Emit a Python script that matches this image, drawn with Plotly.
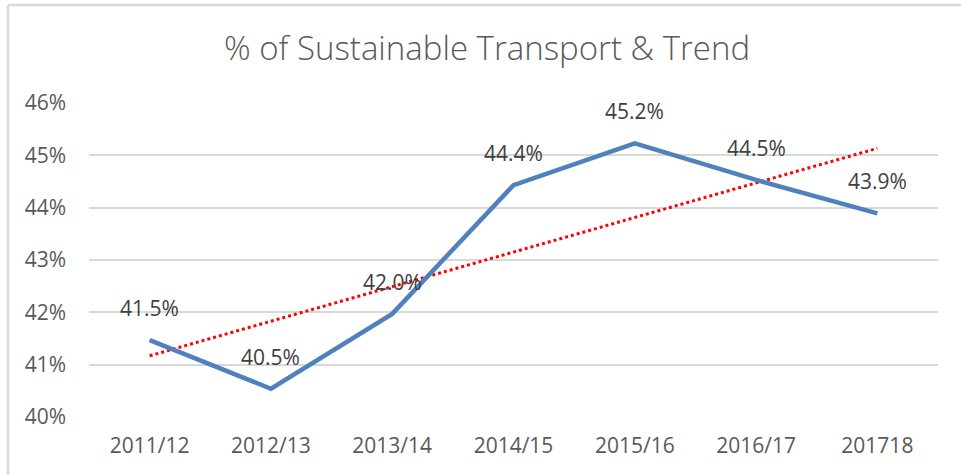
import numpy as np
import plotly.graph_objects as go

categories = ["2011/12", "2012/13", "2013/14", "2014/15", "2015/16", "2016/17", "201718"]
values = [0.4147, 0.4054, 0.4197, 0.4443, 0.4523, 0.4453, 0.4389]
y_ticks = [0.40, 0.41, 0.42, 0.43, 0.44, 0.45, 0.46]
title_text = "% of Sustainable Transport & Trend"

# linear trend line fitted to the data (Excel "linear trendline")
xi = np.arange(len(values))
slope, intercept = np.polyfit(xi, values, 1)
trend = slope * xi + intercept

W, H = 961, 475
L, R, T, B = 89, 23, 103, 58
FONT = "Open Sans"

fig = go.Figure()
fig.add_trace(go.Scatter(
    x=categories, y=trend, mode="lines",
    line=dict(color="#ff0000", width=3, dash="dot"),
    hoverinfo="skip", showlegend=False))
fig.add_trace(go.Scatter(
    x=categories, y=values, mode="lines",
    line=dict(color="#4f81bd", width=4.5),
    showlegend=False))

# data labels (x given as category index so "201718" is not read as a number)
for i, v in enumerate(values):
    fig.add_annotation(x=i, y=v, text=f"{v*100:.1f}%", showarrow=False,
                       yshift=32, yanchor="middle", xanchor="center",
                       font=dict(family=FONT, size=21, color="#404040"))

# chart border (top & left visible, rest cropped)
pw = W - L - R
ph = H - T - B
bx = (8 - L) / pw
by = 1 + (T - 5) / ph
fig.add_shape(type="line", xref="paper", yref="paper", x0=bx, x1=bx, y0=by, y1=-0.5,
              line=dict(color="#d9d9d9", width=2.5))
fig.add_shape(type="line", xref="paper", yref="paper", x0=bx, x1=1.5, y0=by, y1=by,
              line=dict(color="#d9d9d9", width=2.5))

fig.update_layout(
    width=W, height=H,
    margin=dict(l=L, r=R, t=T, b=B, pad=0),
    paper_bgcolor="white", plot_bgcolor="white",
    title=dict(text=title_text, x=487 / W, xref="container", xanchor="center",
               y=1 - 48 / H, yref="container", yanchor="middle",
               font=dict(family=FONT, size=33, color="#595959", weight=300)),
    xaxis=dict(type="category", categoryorder="array", categoryarray=categories,
               range=[-0.5, len(categories) - 0.5], showgrid=False, zeroline=False,
               showline=False, ticks="", ticklabelstandoff=14,
               tickfont=dict(family=FONT, size=21, color="#595959")),
    yaxis=dict(range=[0.40, 0.46], tickvals=y_ticks, tickformat=".0%",
               showgrid=True, gridcolor="#d9d9d9", gridwidth=1.5,
               zeroline=False, showline=False, ticks="", ticklabelstandoff=22,
               tickfont=dict(family=FONT, size=21, color="#595959")),
)

fig.write_html("out.html", config={"displayModeBar": False},
               post_script="document.body.style.margin='0';")
